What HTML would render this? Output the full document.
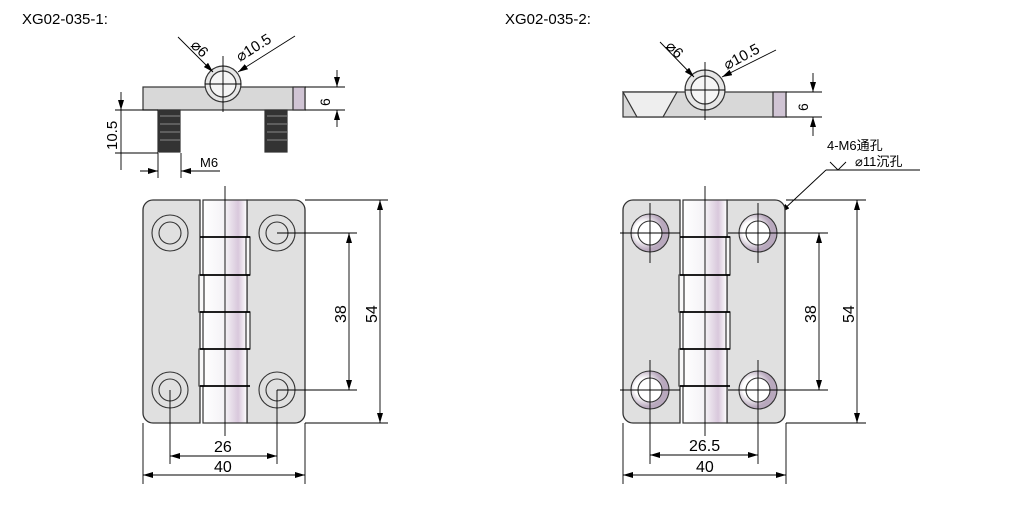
<!DOCTYPE html>
<html><head><meta charset="utf-8"><style>
html,body{margin:0;padding:0;background:#fff;}
svg{display:block;font-family:"Liberation Sans","Noto Sans CJK SC",sans-serif;}
</style></head><body>
<svg width="1024" height="509" viewBox="0 0 1024 509" xmlns="http://www.w3.org/2000/svg">
<defs>
<marker id="a" viewBox="0 0 10 6" refX="10" refY="3" markerWidth="10" markerHeight="6" orient="auto-start-reverse" markerUnits="userSpaceOnUse"><path d="M0,0L10,3L0,6z" fill="#000"/></marker>
<linearGradient id="kn" x1="0" x2="1"><stop offset="0" stop-color="#fff"/><stop offset="0.5" stop-color="#f4f2f6"/><stop offset="0.8" stop-color="#d9c8dc"/><stop offset="1" stop-color="#fff"/></linearGradient>
<radialGradient id="cs" cx="0.35" cy="0.45"><stop offset="0.5" stop-color="#fff"/><stop offset="1" stop-color="#b8a8bd"/></radialGradient>
<g id="plate">
  <path d="M143,210 a10,10 0 0 1 10,-10 H200 V423 H153 a10,10 0 0 1 -10,-10z" fill="#e0e0e0" stroke="#333" stroke-width="1.3"/>
  <path d="M247,200 H295 a10,10 0 0 1 10,10 V413 a10,10 0 0 1 -10,10 H247z" fill="#e0e0e0" stroke="#333" stroke-width="1.3"/>
  <rect x="203" y="200" width="44" height="223" fill="url(#kn)" stroke="#333" stroke-width="1.2"/>
  <g fill="#f8f8f8" stroke="#333" stroke-width="1.2">
    <rect x="199" y="275" width="5" height="37"/>
    <rect x="199" y="349" width="5" height="37"/>
    <rect x="246" y="237" width="4" height="38"/>
    <rect x="246" y="312" width="4" height="37"/>
  </g>
  <g stroke="#000" stroke-width="1.8"><line x1="200" y1="237" x2="250" y2="237"/><line x1="200" y1="275" x2="250" y2="275"/><line x1="200" y1="312" x2="250" y2="312"/><line x1="200" y1="349" x2="250" y2="349"/><line x1="200" y1="386" x2="250" y2="386"/></g>
</g>
</defs>

<!-- LEFT -->
<text x="22" y="24" font-size="15">XG02-035-1:</text>
<g stroke="#333" stroke-width="1.2">
  <rect x="143" y="87" width="162" height="23" fill="#d8d8d8"/>
  <rect x="293" y="87" width="12" height="23" fill="#d0c4d4"/>
  <circle cx="223" cy="84" r="18" fill="#e6e6e6"/>
  <circle cx="223" cy="84" r="13" fill="#f5f5f5"/>
  <rect x="158" y="110" width="22" height="42" fill="#333"/>
  <rect x="265" y="110" width="22" height="42" fill="#333"/>
</g>
<g stroke="#888" stroke-width="1"><line x1="160" y1="116" x2="180" y2="116"/><line x1="160" y1="124" x2="180" y2="124"/><line x1="160" y1="132" x2="180" y2="132"/><line x1="160" y1="140" x2="180" y2="140"/><line x1="267" y1="116" x2="287" y2="116"/><line x1="267" y1="124" x2="287" y2="124"/><line x1="267" y1="132" x2="287" y2="132"/><line x1="267" y1="140" x2="287" y2="140"/></g>
<g stroke="#000" stroke-width="0.9" fill="none">
  <line x1="223" y1="56" x2="223" y2="112"/><line x1="205" y1="84" x2="241" y2="84"/>
  <line x1="178" y1="37" x2="213" y2="72" marker-end="url(#a)"/>
  <line x1="295" y1="36" x2="238" y2="72" marker-end="url(#a)"/>
  <line x1="305" y1="87" x2="345" y2="87"/><line x1="305" y1="110" x2="345" y2="110"/>
  <line x1="337" y1="70" x2="337" y2="87" marker-end="url(#a)"/><line x1="337" y1="127" x2="337" y2="110" marker-end="url(#a)"/>
  <line x1="115" y1="110" x2="158" y2="110"/><line x1="115" y1="153" x2="158" y2="153"/>
  <line x1="121" y1="92" x2="121" y2="170"/>
  <line x1="121" y1="100" x2="121" y2="110" marker-end="url(#a)"/>
  <line x1="158" y1="153" x2="158" y2="178"/><line x1="181" y1="153" x2="181" y2="178"/>
  <line x1="140" y1="171" x2="158" y2="171" marker-end="url(#a)"/><line x1="220" y1="171" x2="181" y2="171" marker-end="url(#a)"/>
</g>
<text x="190" y="46" font-size="15" transform="rotate(45 190 46)">⌀6</text>
<text x="240" y="62" font-size="15" transform="rotate(-32 240 62)">⌀10.5</text>
<text x="330" y="106" font-size="14" transform="rotate(-90 330 106)">6</text>
<text x="117" y="150" font-size="15" transform="rotate(-90 117 150)">10.5</text>
<text x="200" y="167" font-size="13">M6</text>

<use href="#plate"/>
<g fill="none" stroke="#333" stroke-width="1.1">
  <circle cx="170" cy="233" r="18"/><circle cx="170" cy="233" r="11"/>
  <circle cx="277" cy="233" r="18"/><circle cx="277" cy="233" r="11"/>
  <circle cx="170" cy="390" r="18"/><circle cx="170" cy="390" r="11"/>
  <circle cx="277" cy="390" r="18"/><circle cx="277" cy="390" r="11"/>
</g>
<g stroke="#000" stroke-width="0.9" fill="none">
  <line x1="225" y1="186" x2="225" y2="436"/>
  <line x1="305" y1="200" x2="388" y2="200"/><line x1="305" y1="423" x2="388" y2="423"/>
  <line x1="380" y1="200" x2="380" y2="423" marker-start="url(#a)" marker-end="url(#a)"/>
  <line x1="277" y1="233" x2="357" y2="233"/><line x1="277" y1="390" x2="357" y2="390"/>
  <line x1="349" y1="233" x2="349" y2="390" marker-start="url(#a)" marker-end="url(#a)"/>
  <line x1="170" y1="390" x2="170" y2="464"/><line x1="277" y1="390" x2="277" y2="464"/>
  <line x1="170" y1="456" x2="277" y2="456" marker-start="url(#a)" marker-end="url(#a)"/>
  <line x1="143" y1="423" x2="143" y2="484"/><line x1="305" y1="423" x2="305" y2="484"/>
  <line x1="143" y1="475" x2="305" y2="475" marker-start="url(#a)" marker-end="url(#a)"/>
</g>
<text x="214" y="452" font-size="16">26</text>
<text x="214" y="472" font-size="16">40</text>
<text x="346" y="323" font-size="16" transform="rotate(-90 346 323)">38</text>
<text x="377" y="323" font-size="16" transform="rotate(-90 377 323)">54</text>

<!-- RIGHT -->
<text x="505" y="24" font-size="15">XG02-035-2:</text>
<g stroke="#333" stroke-width="1.2">
  <rect x="623" y="92" width="163" height="25" fill="#d8d8d8"/>
  <path d="M623,92 L637,117 H663 L677,92z" fill="#eee"/>
  <rect x="773" y="92" width="13" height="25" fill="#d0c4d4"/>
  <circle cx="705" cy="90" r="20" fill="#e6e6e6"/>
  <circle cx="705" cy="90" r="14" fill="#f5f5f5"/>
</g>
<g stroke="#000" stroke-width="0.9" fill="none">
  <line x1="705" y1="62" x2="705" y2="120"/><line x1="685" y1="90" x2="725" y2="90"/>
  <line x1="660" y1="42" x2="694" y2="77" marker-end="url(#a)"/>
  <line x1="776" y1="50" x2="722" y2="77" marker-end="url(#a)"/>
  <line x1="786" y1="92" x2="822" y2="92"/><line x1="786" y1="117" x2="822" y2="117"/>
  <line x1="813" y1="73" x2="813" y2="92" marker-end="url(#a)"/><line x1="813" y1="136" x2="813" y2="117" marker-end="url(#a)"/>
  <path d="M830,162 L838,170 L846,162"/>
  <line x1="826" y1="170" x2="920" y2="170"/>
  <line x1="826" y1="170" x2="780" y2="213" marker-end="url(#a)"/>
</g>
<text x="665" y="47" font-size="15" transform="rotate(45 665 47)">⌀6</text>
<text x="727" y="70" font-size="15" transform="rotate(-28 727 70)">⌀10.5</text>
<text x="808" y="111" font-size="14" transform="rotate(-90 808 111)">6</text>
<text x="827" y="150" font-size="13">4-M6通孔</text>
<text x="855" y="166" font-size="13">⌀11沉孔</text>

<use href="#plate" transform="translate(480,0)"/>
<g stroke="#333" stroke-width="1.1">
  <circle cx="650" cy="233" r="19" fill="url(#cs)"/><circle cx="650" cy="233" r="12" fill="#fff"/>
  <circle cx="758" cy="233" r="19" fill="url(#cs)"/><circle cx="758" cy="233" r="12" fill="#fff"/>
  <circle cx="650" cy="390" r="19" fill="url(#cs)"/><circle cx="650" cy="390" r="12" fill="#fff"/>
  <circle cx="758" cy="390" r="19" fill="url(#cs)"/><circle cx="758" cy="390" r="12" fill="#fff"/>
</g>
<g stroke="#000" stroke-width="0.9" fill="none">
  <line x1="650" y1="203" x2="650" y2="263"/><line x1="620" y1="233" x2="680" y2="233"/>
  <line x1="758" y1="203" x2="758" y2="263"/><line x1="728" y1="233" x2="788" y2="233"/>
  <line x1="650" y1="360" x2="650" y2="464"/><line x1="620" y1="390" x2="680" y2="390"/>
  <line x1="758" y1="360" x2="758" y2="464"/><line x1="728" y1="390" x2="788" y2="390"/>
  <line x1="705" y1="186" x2="705" y2="436"/>
  <line x1="786" y1="200" x2="866" y2="200"/><line x1="786" y1="423" x2="866" y2="423"/>
  <line x1="857" y1="200" x2="857" y2="423" marker-start="url(#a)" marker-end="url(#a)"/>
  <line x1="758" y1="233" x2="828" y2="233"/><line x1="758" y1="390" x2="828" y2="390"/>
  <line x1="819" y1="233" x2="819" y2="390" marker-start="url(#a)" marker-end="url(#a)"/>
  <line x1="650" y1="455" x2="758" y2="455" marker-start="url(#a)" marker-end="url(#a)"/>
  <line x1="623" y1="423" x2="623" y2="484"/><line x1="786" y1="423" x2="786" y2="484"/>
  <line x1="623" y1="475" x2="786" y2="475" marker-start="url(#a)" marker-end="url(#a)"/>
</g>
<text x="689" y="451" font-size="16">26.5</text>
<text x="696" y="472" font-size="16">40</text>
<text x="816" y="323" font-size="16" transform="rotate(-90 816 323)">38</text>
<text x="854" y="323" font-size="16" transform="rotate(-90 854 323)">54</text>
</svg>
</body></html>
